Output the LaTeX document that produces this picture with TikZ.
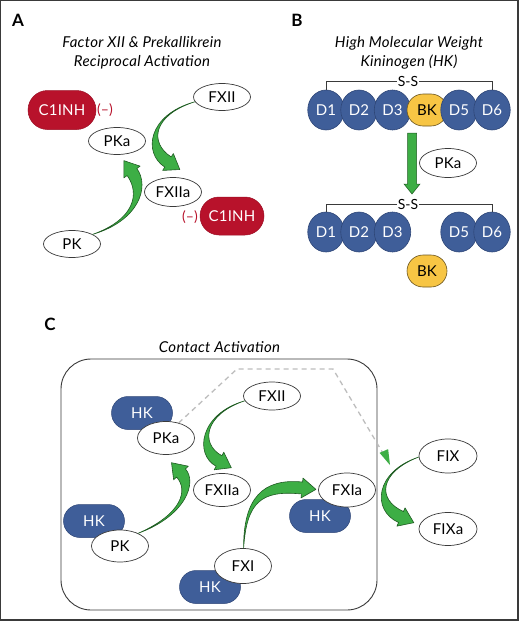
\documentclass[tikz,border=0pt]{standalone}
\usepackage{fontspec}
\setmainfont{Lato}
\usetikzlibrary{shapes.geometric,shapes.misc,calc,arrows.meta}

\definecolor{hkblue}{HTML}{3F5E99}
\definecolor{hkedge}{HTML}{2E4677}
\definecolor{bkyellow}{HTML}{F7C544}
\definecolor{bkedge}{HTML}{6B5520}
\definecolor{cred}{HTML}{B8122B}
\definecolor{agreen}{HTML}{3DAE45}
\definecolor{agreenedge}{HTML}{1F5A22}
\definecolor{edgegray}{HTML}{3A3A3A}
\definecolor{dashgray}{HTML}{BDBDBD}

% tapered curved arrow: #1 tail, #2 control 1, #3 control 2, #4 head base, #5 body half width, #6 head half width
\newcommand\taparrow[6]{%
 \fill[agreen, draw=agreenedge, line width=0.6pt, line join=round]
 (#1) .. controls ($(#2)!#5*0.4!-90:(#3)$) and ($(#3)!#5!-90:(#4)$) .. ($(#4)!#5!90:(#3)$)
 -- ($(#4)!#6!90:(#3)$) -- ($(#4)!-14pt!(#3)$) -- ($(#4)!#6!-90:(#3)$)
 -- ($(#4)!#5!-90:(#3)$) .. controls ($(#3)!#5!90:(#4)$) and ($(#2)!#5*0.4!90:(#3)$) .. (#1) -- cycle;}

\newcommand\nodefont{\fontsize{15}{17}\selectfont\addfontfeature{LetterSpace=1.5}}

\tikzset{
 ell/.style={ellipse, draw=edgegray, fill=white, line width=0.7pt, minimum width=57pt,
   minimum height=29pt, inner sep=0pt, font=\nodefont},
 redcap/.style={rounded rectangle, fill=cred, draw=cred!85!black, line width=0.5pt, text=white,
   inner sep=0pt, font=\nodefont},
 hkcap/.style={rounded rectangle, fill=hkblue, draw=hkedge, line width=0.5pt, text=white,
   minimum width=61pt, minimum height=33pt, inner sep=0pt, font=\nodefont},
 dom/.style={ellipse, fill=hkblue, draw=hkedge, line width=0.6pt, text=white,
   minimum width=36.5pt, minimum height=40pt, inner sep=0pt, font=\nodefont},
 bkdom/.style={rounded rectangle, rounded rectangle arc length=180, shape border rotate=90,
   fill=bkyellow, draw=bkedge, line width=0.6pt, text=black,
   minimum width=40pt, minimum height=32pt, inner sep=0pt, font=\nodefont},
 minus/.style={text=cred, font=\fontsize{14}{16}\selectfont, inner sep=0pt},
 ttl/.style={font=\fontsize{15}{19}\selectfont\itshape\addfontfeature{LetterSpace=2}, align=center, inner sep=0pt},
 plabel/.style={font=\fontsize{17}{19}\selectfont\bfseries, inner sep=0pt},
 ssline/.style={edgegray, line width=0.7pt},
 sstext/.style={fill=white, inner sep=1pt, font=\fontsize{14}{16}\selectfont},
}

\begin{document}
\begin{tikzpicture}[x=1pt,y=-1pt]
\useasboundingbox (0,0) rectangle (520,621);
\fill[white] (0,0) rectangle (520,621);
\draw[edgegray, line width=1.2pt] (0.6,0.6) rectangle (518,620);

% ---------------- Panel A ----------------
\node[plabel] (lA) at (18,20) {A};
\node[ttl] (tA) at (142,52.5) {Factor XII \& Prekallikrein\\Reciprocal Activation};
\node[redcap, minimum width=68pt, minimum height=39pt] (aC1) at (62,110) {C1INH};
\node[minus] (aM1) at (105,110) {(–)};
\node[ell, minimum height=27pt] (aPKa) at (117,141) {PKa};
\node[ell, minimum height=27pt] (aFXII) at (222,97) {FXII};
\node[ell] (aFXIIa) at (173,192) {FXIIa};
\node[redcap, minimum width=64pt, minimum height=38pt] (aC1b) at (232,216) {C1INH};
\node[minus] (aM2) at (190,217) {(–)};
\node[ell, minimum height=27pt] (aPK) at (72,244) {PK};

\coordinate (a1c1) at (150,115);
\coordinate (a1c2) at (146,148);
\coordinate (a1b) at (168,162);
\taparrow{aFXII.190}{a1c1}{a1c2}{a1b}{6pt}{10pt}

\coordinate (a2c1) at (137,220);
\coordinate (a2c2) at (145,190);
\coordinate (a2b) at (132,172);
\taparrow{aPK.25}{a2c1}{a2c2}{a2b}{6pt}{10pt}

% ---------------- Panel B ----------------
\node[plabel] (lB) at (297,20) {B};
\node[ttl] (tB) at (409,52.5) {High Molecular Weight\\Kininogen (HK)};

\node[dom] (b1) at (326,110) {D1};
\node[dom] (b2) at (359,110) {D2};
\node[dom] (b3) at (392.5,110) {D3};
\node[bkdom] (bBK) at (427,110) {BK};
\node[dom] (b5) at (459,110) {D5};
\node[dom] (b6) at (492,110) {D6};
\draw[ssline] (b1.north) -- (326,81) -- (492,81) -- (b6.north);
\node[sstext] (bSS1) at (408,81) {S-S};

\fill[agreen, draw=agreenedge, line width=0.5pt]
 (407.5,133) -- (416.5,133) -- (416.5,184) -- (420,184) -- (412,194) -- (404,184) -- (407.5,184) -- cycle;
\node[ell] (bPKa) at (448,163) {PKa};

\node[dom] (c1) at (326,232) {D1};
\node[dom] (c2) at (359,232) {D2};
\node[dom] (c3) at (392.5,232) {D3};
\node[dom] (c5) at (459,232) {D5};
\node[dom] (c6) at (492,232) {D6};
\draw[ssline] (c1.north) -- (326,204) -- (492,204) -- (c6.north);
\node[sstext] (bSS2) at (408,204) {S-S};
\node[bkdom] (cBK) at (427,271) {BK};

% ---------------- Panel C ----------------
\node[plabel] (lC) at (50,324) {C};
\node[ttl] (tC) at (219.5,347) {Contact Activation};
\draw[edgegray, line width=0.9pt, rounded corners=30pt] (61,359) rectangle (377,610);

\node[hkcap] (hk1) at (142,413) {HK};
\node[hkcap] (hk2) at (94,521) {HK};
\node[hkcap] (hk3) at (320,516) {HK};
\node[hkcap] (hk4) at (210,587) {HK};

\node[ell, minimum height=33pt] (cPKa) at (166,438) {PKa};
\node[ell, minimum height=28pt] (cFXII) at (272,396) {FXII};
\node[ell, minimum height=33pt] (cFXIIa) at (222,490) {FXIIa};
\node[ell, minimum height=32pt] (cPK) at (120,546) {PK};
\node[ell, minimum height=34pt] (cFXIa) at (347,490) {FXIa};
\node[ell, minimum height=35pt] (cFXI) at (243,566) {FXI};
\node[ell, minimum width=58pt, minimum height=34pt] (cFIX) at (448,456) {FIX};
\node[ell, minimum width=58pt, minimum height=33pt] (cFIXa) at (448,529) {FIXa};

\coordinate (cd1) at (237,369);
\coordinate (cd2) at (333,369);
\coordinate (cdEnd) at (390,465);
\draw[dashgray, line width=1.3pt, dash pattern=on 5pt off 4pt]
 (cPKa.50) -- (cd1) -- (cd2) -- (cdEnd);
\fill[agreen] (cdEnd) -- ($(cdEnd)!16pt!10:(cd2)$) -- ($(cdEnd)!16pt!-24:(cd2)$) -- cycle;

\coordinate (k1c1) at (202,414);
\coordinate (k1c2) at (197,449);
\coordinate (k1b) at (219,461);
\taparrow{cFXII.190}{k1c1}{k1c2}{k1b}{6pt}{10pt}

\coordinate (k2c1) at (184,515);
\coordinate (k2c2) at (193,486);
\coordinate (k2b) at (181,473);
\taparrow{cPK.35}{k2c1}{k2c2}{k2b}{6pt}{10pt}

\coordinate (k3c1) at (245,500);
\coordinate (k3c2) at (262,484);
\coordinate (k3b) at (302,488);
\taparrow{cFXI.88}{k3c1}{k3c2}{k3b}{6pt}{10pt}

\coordinate (k4c1) at (377,472);
\coordinate (k4c2) at (374,505);
\coordinate (k4b) at (401,517);
\taparrow{cFIX.182}{k4c1}{k4c2}{k4b}{6pt}{10pt}
\end{tikzpicture}
\end{document}
